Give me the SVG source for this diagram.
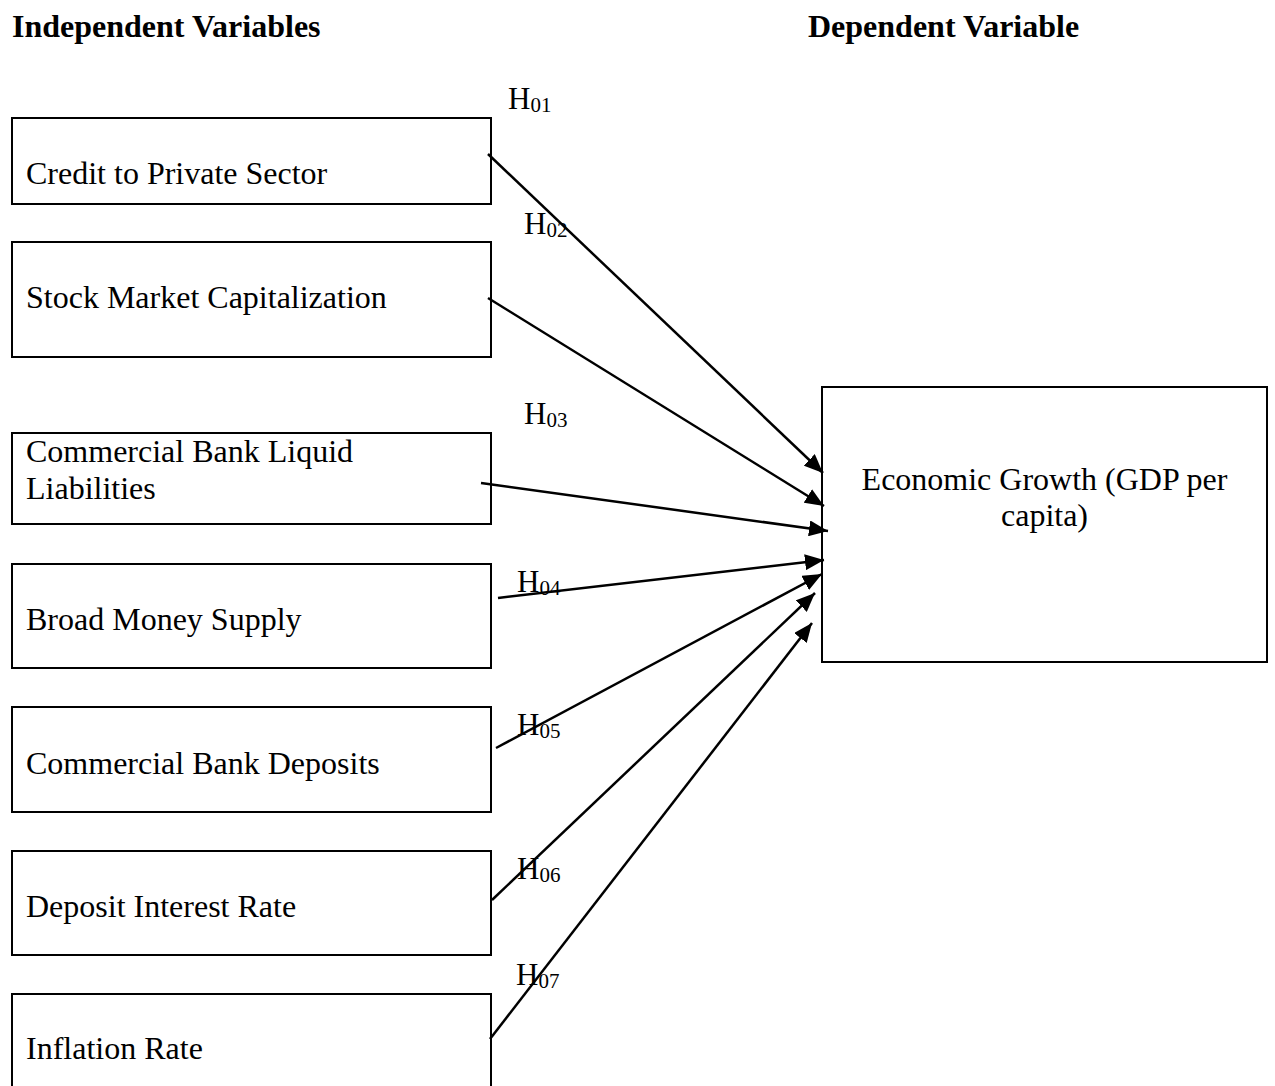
<svg xmlns="http://www.w3.org/2000/svg" width="1275" height="1086" viewBox="0 0 1275 1086">
<style>
.box{fill:#fff;stroke:#000;stroke-width:2}
.t{font-family:"Liberation Serif",serif;font-size:32px;fill:#000}
.h{font-family:"Liberation Serif",serif;font-size:31px;fill:#000}
.sub{font-size:21px}
.hd{font-family:"Liberation Serif",serif;font-size:32px;font-weight:bold;fill:#000}
.c{fill:none;stroke:#000;stroke-width:2.5}
</style>
<defs>
<marker id="arr" markerUnits="userSpaceOnUse" markerWidth="20" markerHeight="16" refX="19" refY="8" orient="auto">
<path d="M0,0 L19,8 L0,16 z" fill="#000"/>
</marker>
</defs>
<rect width="1275" height="1086" fill="#fff"/>
<text class="hd" x="12" y="37">Independent Variables</text>
<text class="hd" x="808" y="37">Dependent Variable</text>

<g id="n1"><rect class="box" x="12" y="118" width="479" height="86"/><text class="t" x="26" y="184">Credit to Private Sector</text></g>
<g id="n2"><rect class="box" x="12" y="242" width="479" height="115"/><text class="t" x="26" y="308">Stock Market Capitalization</text></g>
<g id="n3"><rect class="box" x="12" y="433" width="479" height="91"/><text class="t" x="26" y="462">Commercial Bank Liquid</text><text class="t" x="26" y="499">Liabilities</text></g>
<g id="n4"><rect class="box" x="12" y="564" width="479" height="104"/><text class="t" x="26" y="630">Broad Money Supply</text></g>
<g id="n5"><rect class="box" x="12" y="707" width="479" height="105"/><text class="t" x="26" y="774">Commercial Bank Deposits</text></g>
<g id="n6"><rect class="box" x="12" y="851" width="479" height="104"/><text class="t" x="26" y="917">Deposit Interest Rate</text></g>
<g id="n7"><rect class="box" x="12" y="994" width="479" height="110"/><text class="t" x="26" y="1059">Inflation Rate</text></g>
<g id="n8"><rect class="box" x="822" y="387" width="445" height="275"/><text class="t" x="1044.5" y="490" text-anchor="middle">Economic Growth (GDP per</text><text class="t" x="1044.5" y="526" text-anchor="middle">capita)</text></g>

<g id="connectors">
<line class="c" x1="488" y1="154" x2="823" y2="473" marker-end="url(#arr)"/>
<line class="c" x1="488" y1="298" x2="824" y2="506" marker-end="url(#arr)"/>
<line class="c" x1="481" y1="483" x2="828" y2="531" marker-end="url(#arr)"/>
<line class="c" x1="498" y1="598" x2="824" y2="560" marker-end="url(#arr)"/>
<line class="c" x1="496" y1="748" x2="822" y2="574" marker-end="url(#arr)"/>
<line class="c" x1="492" y1="900" x2="815" y2="593" marker-end="url(#arr)"/>
<line class="c" x1="490" y1="1039" x2="812" y2="623" marker-end="url(#arr)"/>
</g>

<g id="labels">
<text class="h" x="508" y="109">H<tspan class="sub" dy="3">01</tspan></text>
<text class="h" x="524" y="234">H<tspan class="sub" dy="3">02</tspan></text>
<text class="h" x="524" y="424">H<tspan class="sub" dy="3">03</tspan></text>
<text class="h" x="517" y="592">H<tspan class="sub" dy="3">04</tspan></text>
<text class="h" x="517" y="735">H<tspan class="sub" dy="3">05</tspan></text>
<text class="h" x="517" y="879">H<tspan class="sub" dy="3">06</tspan></text>
<text class="h" x="516" y="985">H<tspan class="sub" dy="3">07</tspan></text>
</g>
</svg>
